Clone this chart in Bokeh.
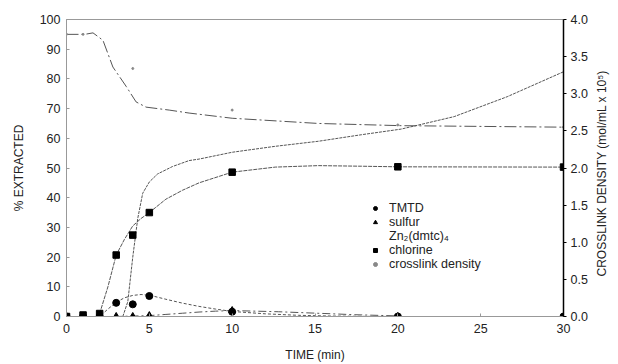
import math
from bokeh.plotting import figure
from bokeh.models import (Range1d, LinearAxis, Legend, LegendItem, FixedTicker,
                          NumeralTickFormatter)
from bokeh.embed import file_html
from bokeh.resources import INLINE

# ---- measured points ----
pt_time = [0, 1, 2, 3, 4, 5, 10, 20, 30]
tmtd_pts = [0, 0, 0, 4.6, 4.1, 6.9, 1.6, 0, 0]
sulfur_pts = [0, 0, 0, 0, 0, 0.3, 2.0, 0, 0]
chlorine_pts = [0, 0.5, 1.0, 20.7, 27.4, 35.0, 48.6, 50.4, 50.3]

cld_time = [0, 1, 4, 10, 20, 30]
cld_pts = [3.80, 3.80, 3.34, 2.78, 2.58, 2.55]

# ---- fitted curves ----
tmtd_ct = [0, 1, 2, 2.5, 3, 3.5, 4, 4.5, 5, 6, 7, 8, 9, 10, 12, 14, 16, 18, 20]
tmtd_cv = [0, 0, 0, 2.5, 4.8, 6.3, 7.1, 7.4, 7.2, 5.8, 4.5, 3.4, 2.5, 1.7, 0.9, 0.4, 0.15, 0.05, 0]

sulfur_ct = [0, 2, 3, 5, 6, 7, 8, 9, 10, 12.8, 15.6, 17.4, 20]
sulfur_cv = [0, 0, 0, 0.3, 0.7, 1.1, 1.5, 1.8, 2.0, 1.6, 1.0, 0.6, 0.2]

zn_ct = [3.4, 3.7, 4.0, 4.3, 4.6, 5.0, 5.5, 6.4, 7.4, 8.0, 10.0, 12.6, 15.2, 17.8, 20.2, 23.4, 26.6, 30]
zn_cv = [0, 5, 20, 33, 41.5, 45.3, 48, 50.5, 52.5, 53, 55.3, 57.3, 59, 61.2, 63.1, 67.3, 74, 82.4]

chl_ct = [2, 2.5, 3, 3.5, 4, 4.5, 5, 6, 7, 8, 10, 12.6, 15.2, 17.8, 20, 30]
chl_cv = [1, 10, 20.7, 26, 30.5, 33, 35, 39.5, 42.5, 45, 48.6, 50.3, 50.8, 50.6, 50.4, 50.3]

cld_ct = [0, 1.1, 1.6, 2.2, 2.8, 3.6, 4.2, 4.8, 6.2, 7.4, 10, 15.2, 20.2, 30]
cld_cv = [3.80, 3.80, 3.82, 3.72, 3.36, 3.10, 2.89, 2.82, 2.78, 2.74, 2.67, 2.60, 2.57, 2.55]

x_ticks = [0, 5, 10, 15, 20, 25, 30]
y_ticks = [0, 10, 20, 30, 40, 50, 60, 70, 80, 90, 100]
r_ticks = [0, 0.5, 1.0, 1.5, 2.0, 2.5, 3.0, 3.5, 4.0]

FONT = "Liberation Sans"
LC = "#555555"
TC = "#222222"
NBSP = "\u00a0"

p = figure(width=618, height=364, x_range=Range1d(0, 30), y_range=Range1d(0, 100),
           output_backend="svg", toolbar_location=None,
           min_border_left=66, min_border_right=52, min_border_top=19, min_border_bottom=46)
p.extra_y_ranges = {"cld": Range1d(0, 4)}
p.xgrid.visible = False
p.ygrid.visible = False
p.outline_line_color = "#999999"
p.background_fill_color = "white"
p.border_fill_color = "white"

def style_axis(ax, color):
    ax.axis_line_color = color
    ax.major_tick_line_color = color
    ax.minor_tick_line_color = None
    ax.major_tick_in = 3
    ax.major_tick_out = 0
    ax.major_label_text_font = FONT
    ax.major_label_text_font_size = "12.5px"
    ax.major_label_text_color = TC
    ax.axis_label_text_font = FONT
    ax.axis_label_text_font_size = "12px"
    ax.axis_label_text_font_style = "normal"
    ax.axis_label_text_color = TC

p.xaxis.ticker = FixedTicker(ticks=x_ticks)
p.yaxis.ticker = FixedTicker(ticks=y_ticks)
style_axis(p.xaxis[0], "#999999")
style_axis(p.yaxis[0], "#999999")
p.xaxis.axis_label = "TIME (min)"
p.yaxis.axis_label = "% EXTRACTED"
p.xaxis.major_label_standoff = 7
p.xaxis.axis_label_standoff = 12
p.yaxis.major_label_standoff = 6
p.yaxis.axis_label_standoff = 11

ra = LinearAxis(y_range_name="cld", ticker=FixedTicker(ticks=r_ticks),
                axis_label=NBSP * 12 + "CROSSLINK DENSITY (mol/mL x 10\u2075)")
style_axis(ra, "#000000")
ra.axis_line_width = 1.5
ra.major_tick_in = 0
ra.major_tick_out = 3
ra.major_label_standoff = 4
ra.axis_label_standoff = 11
ra.axis_label_orientation = math.pi / 2
ra.axis_label_align = "start"
ra.formatter = NumeralTickFormatter(format="0.0")
p.add_layout(ra, "right")

# curves
p.line(cld_ct, cld_cv, y_range_name="cld", line_color=LC, line_width=1, line_dash="12 3 2 3")
p.line(zn_ct, zn_cv, line_color=LC, line_width=1, line_dash="3 1")
p.line(chl_ct, chl_cv, line_color=LC, line_width=1, line_dash="4 1")
p.line(tmtd_ct, tmtd_cv, line_color=LC, line_width=1, line_dash="3 2")
p.line(sulfur_ct, sulfur_cv, line_color=LC, line_width=1, line_dash="8 3 2 3")

# markers
r_tri = p.scatter(pt_time, sulfur_pts, marker="triangle", size=7, color="black")
r_sq = p.scatter(pt_time, chlorine_pts, marker="square", size=6.5, color="black")
r_cir = p.scatter(pt_time, tmtd_pts, marker="circle", size=7, color="black")
r_cld = p.scatter(cld_time, cld_pts, y_range_name="cld", marker="circle", size=2, color="#888888")
r_zn = p.scatter([], [], marker="circle", size=0, color="black")

legend = Legend(items=[
    LegendItem(label="TMTD", renderers=[r_cir]),
    LegendItem(label="sulfur", renderers=[r_tri]),
    LegendItem(label="Zn\u2082(dmtc)\u2084", renderers=[r_zn]),
    LegendItem(label="chlorine", renderers=[r_sq]),
    LegendItem(label="crosslink density", renderers=[r_cld]),
], location=(304, 45), orientation="vertical")
legend.border_line_color = None
legend.background_fill_alpha = 0
legend.label_text_font = FONT
legend.label_text_font_size = "12.5px"
legend.label_text_color = TC
legend.label_height = 12
legend.glyph_height = 12
legend.glyph_width = 10
legend.spacing = 0
legend.padding = 0
legend.margin = 0
legend.label_standoff = 9
p.add_layout(legend, "center")

open("out.html", "w").write(file_html(p, INLINE))
